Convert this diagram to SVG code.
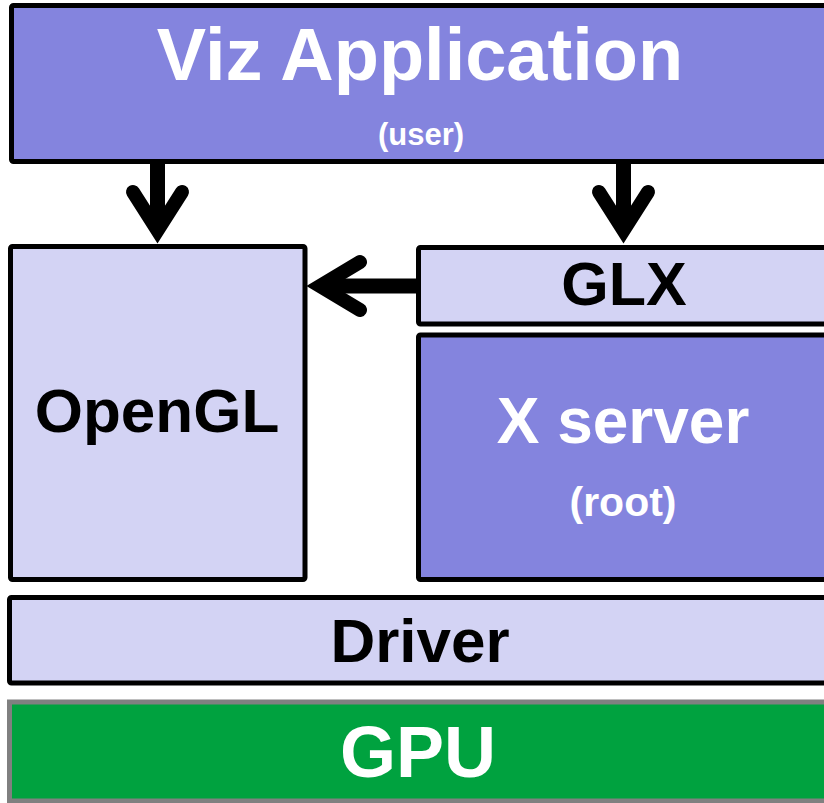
<svg xmlns="http://www.w3.org/2000/svg" width="824" height="803" viewBox="0 0 824 803">
<style>
  .box { stroke: #000; stroke-width: 5; }
  .dark { fill: #8484DE; }
  .light { fill: #D3D3F4; }
  .gpu { fill: #00A23F; stroke: #808080; stroke-width: 5; }
  text { font-family: "Liberation Sans", Arial, sans-serif; font-weight: bold; text-anchor: middle; }
  .w { fill: #fff; }
  .b { fill: #000; }
  .shaft { stroke: #000; stroke-width: 15; fill: none; }
  .head { stroke: #000; stroke-width: 14; fill: none; stroke-linecap: round; stroke-linejoin: miter; stroke-miterlimit: 6; }
</style>
<rect width="824" height="803" fill="#fff"/>
<g id="viz-application">
  <rect class="box dark" x="11.5" y="5.5" width="830" height="156" rx="2"/>
  <text class="w" x="420" y="80" font-size="74">Viz Application</text>
  <text class="w" x="421" y="145" font-size="31">(user)</text>
</g>
<g id="opengl">
  <rect class="box light" x="10.5" y="246.5" width="294.5" height="333" rx="2"/>
  <text class="b" x="157" y="432" font-size="62">OpenGL</text>
</g>
<g id="glx">
  <rect class="box light" x="418.5" y="247.5" width="420" height="76.5" rx="2"/>
  <text class="b" x="624" y="305" font-size="61">GLX</text>
</g>
<g id="x-server">
  <rect class="box dark" x="418.5" y="335" width="420" height="244.5" rx="2"/>
  <text class="w" x="623" y="443" font-size="64">X server</text>
  <text class="w" x="623" y="516" font-size="41">(root)</text>
</g>
<g id="driver">
  <rect class="box light" x="9.5" y="597.5" width="830" height="85.5" rx="2"/>
  <text class="b" x="420" y="662" font-size="62">Driver</text>
</g>
<g id="gpu">
  <rect class="gpu" x="9.5" y="702" width="830" height="99"/>
  <text class="w" x="418" y="777" font-size="72">GPU</text>
</g>
<g id="connectors">
  <line class="shaft" x1="157.5" y1="162" x2="157.5" y2="230"/>
  <path class="head" d="M133,192 L157.5,230.5 L182,192"/>
  <line class="shaft" x1="623.5" y1="162" x2="623.5" y2="230"/>
  <path class="head" d="M599,192 L623.5,230.5 L648,192"/>
  <line class="shaft" x1="418" y1="286" x2="320" y2="286"/>
  <path class="head" d="M360,262 L320,286 L360,310"/>
</g>
</svg>
